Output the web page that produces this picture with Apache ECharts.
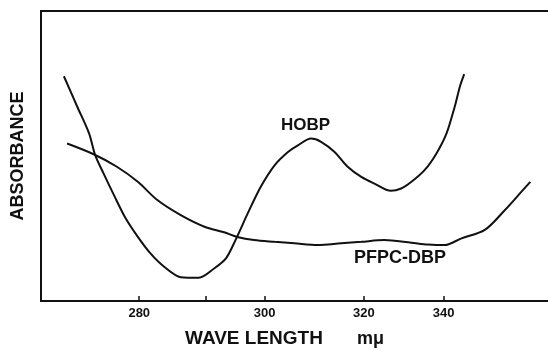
<!DOCTYPE html>
<html>
<head>
<meta charset="utf-8">
<script src="https://cdn.jsdelivr.net/npm/echarts@6/dist/echarts.min.js"></script>
<style>
  html, body { margin: 0; padding: 0; background: #fff; }
  #chart { width: 548px; height: 351px; }
</style>
</head>
<body>
<div id="chart"></div>
<script>
// wavelength (m\u03bc), absorbance in arbitrary units (0-100)
const hobpWave = [270.0, 271.7, 273.2, 274.0, 275.1, 276.5, 278.1, 279.8, 281.6, 283.6, 286.1, 288.9, 291.4, 293.3, 294.9, 297.0, 299.3, 301.8, 304.3, 306.2, 308.8, 310.8, 313.6, 316.4, 319.4, 322.4, 326.3, 328.8, 331.4, 334.8, 338.0, 340.8, 343.1, 344.6, 345.9];
const hobpAbs  = [77.5, 66.9, 57.8, 50.3, 44.0, 36.5, 28.5, 22.1, 16.4, 11.8, 8.2, 8.0, 11.3, 14.7, 21.0, 30.2, 39.4, 46.8, 51.4, 53.7, 56.0, 54.9, 51.4, 46.3, 42.8, 40.5, 38.0, 38.8, 41.1, 45.1, 50.9, 57.8, 66.9, 73.8, 78.2];

const pfpcWave = [270.4, 273.8, 276.9, 279.8, 282.6, 286.1, 289.8, 293.0, 295.2, 298.1, 301.8, 305.5, 310.1, 315.0, 319.4, 324.7, 331.4, 335.7, 340.3, 345.1, 352.2, 358.7, 364.5, 367.7];
const pfpcAbs  = [54.3, 50.6, 46.3, 41.1, 34.8, 29.6, 25.6, 23.7, 22.1, 21.0, 20.4, 19.9, 19.3, 19.9, 20.4, 21.0, 20.1, 19.5, 19.3, 21.6, 24.5, 31.3, 37.7, 41.1];

const tickWaves  = [280, 290, 300, 320, 340];
const labelWaves = [280, 300, 320, 340];
const waveMin = 267.2;
const waveMax = 379.6;

// the recorder's wavelength scale is not linear: position follows (300/λ)^2.5
const toScale = (w) => Math.pow(300 / w, 2.5);
const fromScale = (u) => 300 / Math.pow(u, 0.4);

const pairs = (xs, ys) => xs.map((w, i) => [toScale(w), ys[i]]);

const chart = echarts.init(document.getElementById("chart"));

const font = "'Liberation Sans', Arial, sans-serif";

const lineSeries = (name, xs, ys) => ({
  name: name,
  type: "line",
  data: pairs(xs, ys),
  smooth: 0.3,
  showSymbol: false,
  lineStyle: { color: "#111", width: 2 },
});

const option = {
  animation: false,
  backgroundColor: "#fff",
  grid: {
    left: 41,
    top: 11,
    width: 520,
    height: 290,
    outerBoundsMode: "none",
    show: true,
    borderColor: "#111",
    borderWidth: 2,
  },
  xAxis: {
    type: "value",
    inverse: true,
    min: toScale(waveMax),
    max: toScale(waveMin),
    axisLine: { show: true, lineStyle: { color: "#111", width: 2 } },
    splitLine: { show: false },
    axisTick: {
      show: true,
      inside: true,
      length: 5,
      customValues: tickWaves.map(toScale),
      lineStyle: { color: "#111", width: 1.5 },
    },
    axisLabel: {
      customValues: labelWaves.map(toScale),
      formatter: (v) => String(Math.round(fromScale(v))),
      margin: 6,
      color: "#111",
      fontFamily: font,
      fontWeight: "bold",
      fontSize: 13,
    },
  },
  yAxis: {
    type: "value",
    min: 0,
    max: 100,
    name: "ABSORBANCE",
    nameLocation: "middle",
    nameRotate: 90,
    nameGap: 14,
    nameTextStyle: {
      color: "#111",
      fontFamily: font,
      fontWeight: "bold",
      fontSize: 18,
    },
    axisLine: { show: true, lineStyle: { color: "#111", width: 2 } },
    axisTick: { show: false },
    axisLabel: { show: false },
    splitLine: { show: false },
  },
  graphic: [
    {
      type: "text",
      x: 185,
      y: 339,
      style: { text: "WAVE LENGTH", font: "bold 19px " + font, fill: "#111", textVerticalAlign: "middle" },
    },
    {
      type: "text",
      x: 357,
      y: 339,
      style: { text: "m\u03bc", font: "bold 18px " + font, fill: "#111", textVerticalAlign: "middle" },
    },
    {
      type: "text",
      x: 281,
      y: 125,
      style: { text: "HOBP", font: "bold 17px " + font, fill: "#111", textVerticalAlign: "middle" },
    },
    {
      type: "text",
      x: 354,
      y: 258,
      style: { text: "PFPC-DBP", font: "bold 18px " + font, fill: "#111", textVerticalAlign: "middle" },
    },
  ],
  series: [
    lineSeries("HOBP", hobpWave, hobpAbs),
    lineSeries("PFPC-DBP", pfpcWave, pfpcAbs),
  ],
};

chart.setOption(option);
</script>
</body>
</html>
